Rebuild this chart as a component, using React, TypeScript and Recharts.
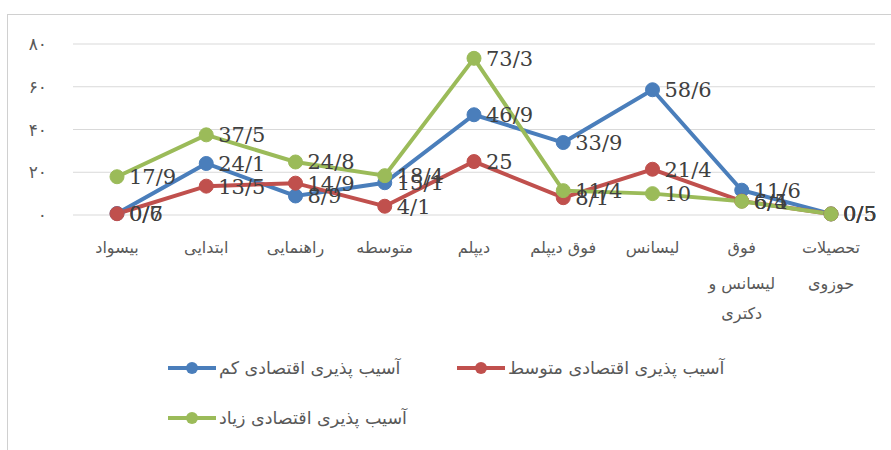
import { LineChart, Line, XAxis, YAxis, CartesianGrid, LabelList } from "recharts";

const categories = [
  "بیسواد",
  "ابتدایی",
  "راهنمایی",
  "متوسطه",
  "دیپلم",
  "فوق دیپلم",
  "لیسانس",
  "فوق\nلیسانس و\nدکتری",
  "تحصیلات\nحوزوی",
];

const lowVuln = [0.7, 24.1, 8.9, 15.1, 46.9, 33.9, 58.6, 11.6, 0.5];
const midVuln = [0.6, 13.5, 14.9, 4.1, 25, 8.1, 21.4, 6.5, 0.5];
const highVuln = [17.9, 37.5, 24.8, 18.4, 73.3, 11.4, 10, 6.4, 0.5];

const yTicks = [0, 20, 40, 60, 80];

const seriesNames = {
  low: "آسیب پذیری اقتصادی کم",
  mid: "آسیب پذیری اقتصادی متوسط",
  high: "آسیب پذیری اقتصادی زیاد",
};

const colors = { low: "#4a7ebb", mid: "#c0504d", high: "#9bbb59" };

const data = categories.map((c, i) => ({
  name: c,
  low: lowVuln[i],
  mid: midVuln[i],
  high: highVuln[i],
}));

const faDigits = "۰۱۲۳۴۵۶۷۸۹";
const toFa = (n: number) => String(n).replace(/\d/g, (d) => faDigits[Number(d)]);
const slashDecimal = (v: any) => String(v).replace(".", "/");

const arabicFont = "'DejaVu Sans', sans-serif";
const labelFont = "'DejaVu Serif', serif";

function CategoryTick({ x, y, payload }: any) {
  const lines = String(payload.value).split("\n");
  return (
    <text x={x} y={y} textAnchor="middle" fill="#595959" fontSize={16} fontFamily={arabicFont}>
      {lines.map((l, i) => (
        <tspan key={i} x={x} dy={i === 0 ? 30 : i === 1 ? 36 : 30}>
          {l}
        </tspan>
      ))}
    </text>
  );
}

function LegendItem({ color, label, left, top }: { color: string; label: string; left: number; top: number }) {
  return (
    <div style={{ position: "absolute", left, top, display: "flex", alignItems: "center", height: 20 }}>
      <svg width={48} height={16}>
        <line x1={0} y1={8} x2={48} y2={8} stroke={color} strokeWidth={4} strokeLinecap="round" />
        <circle cx={24} cy={8} r={6} fill={color} />
      </svg>
      <span style={{ fontFamily: arabicFont, fontSize: 17.5, color: "#595959", marginLeft: 3, whiteSpace: "nowrap" }}>
        {label}
      </span>
    </div>
  );
}

export default function App() {
  const dot = (c: string) => ({ r: 7, fill: c, stroke: c, strokeWidth: 1 });
  const labelStyle = { fontFamily: labelFont, fontSize: 21, fill: "#404040" };
  return (
    <div style={{ position: "absolute", left: 0, top: 0, width: 891, height: 450, background: "#fff" }}>
      <div
        style={{
          position: "absolute",
          left: 7,
          top: 14,
          width: 900,
          height: 450,
          borderLeft: "1px solid #d0d0d0",
          borderTop: "1px solid #d0d0d0",
        }}
      />
      <div style={{ position: "absolute", left: 0, top: 0 }}>
        <LineChart width={891} height={340} data={data} margin={{ top: 44, right: 16, left: 13, bottom: 0 }}>
          <CartesianGrid vertical={false} stroke="#d9d9d9" />
          <XAxis
            dataKey="name"
            height={125}
            axisLine={false}
            tickLine={false}
            interval={0}
            padding={{ left: 44, right: 44 }}
            tick={<CategoryTick />}
          />
          <YAxis
            width={60}
            domain={[0, 80]}
            ticks={yTicks}
            axisLine={false}
            tickLine={false}
            tickMargin={20}
            tickFormatter={toFa}
            tick={{ fill: "#595959", fontSize: 17, fontFamily: arabicFont }}
          />
          <Line
            dataKey="low"
            stroke={colors.low}
            strokeWidth={4}
            dot={dot(colors.low)}
            isAnimationActive={false}
          >
            <LabelList dataKey="low" position="right" offset={12} formatter={slashDecimal} style={labelStyle} />
          </Line>
          <Line
            dataKey="mid"
            stroke={colors.mid}
            strokeWidth={4}
            dot={dot(colors.mid)}
            isAnimationActive={false}
          >
            <LabelList dataKey="mid" position="right" offset={12} formatter={slashDecimal} style={labelStyle} />
          </Line>
          <Line
            dataKey="high"
            stroke={colors.high}
            strokeWidth={4}
            dot={dot(colors.high)}
            isAnimationActive={false}
          >
            <LabelList dataKey="high" position="right" offset={12} formatter={slashDecimal} style={labelStyle} />
          </Line>
        </LineChart>
      </div>
      <LegendItem color={colors.low} label={seriesNames.low} left={168} top={358} />
      <LegendItem color={colors.mid} label={seriesNames.mid} left={457} top={358} />
      <LegendItem color={colors.high} label={seriesNames.high} left={168} top={408} />
    </div>
  );
}
